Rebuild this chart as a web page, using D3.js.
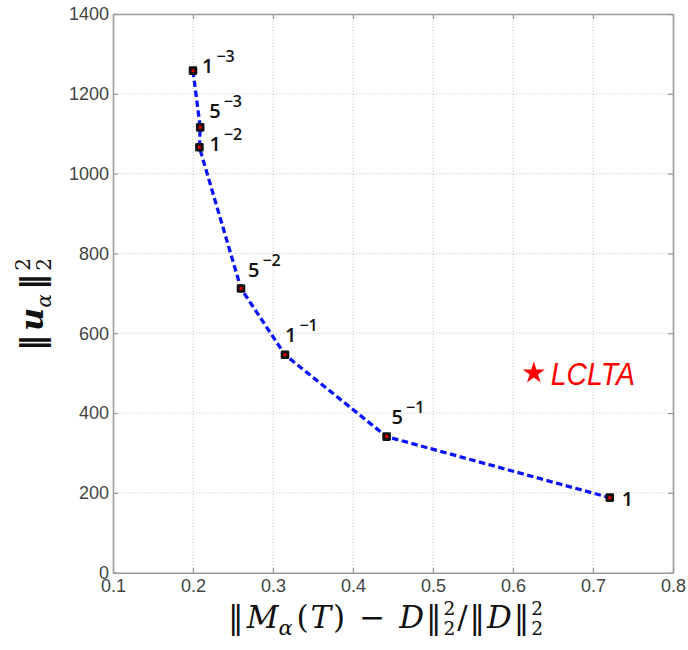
<!DOCTYPE html>
<html>
<head>
<meta charset="utf-8">
<script src="https://cdn.jsdelivr.net/npm/d3@7"></script>
<style>
  html, body { margin: 0; padding: 0; background: #fff; }
  svg { display: block; }
</style>
</head>
<body>
<svg id="chart" width="688" height="650"></svg>
<script>
// Trade-off curve: data misfit vs. solution norm for each regularisation weight
const misfit   = [0.200, 0.209, 0.208, 0.260, 0.315, 0.442, 0.721];
const normU    = [1258, 1116, 1066, 712, 546, 341, 188];
const alphaBase = ["1", "5", "1", "5", "1", "5", "1"];
const alphaExp  = ["−3", "−3", "−2", "−2", "−1", "−1", ""];

// Reference method
const refName = "LCLTA";
const refMisfit = 0.626;
const refNorm = 500;

const xTicks = [0.1, 0.2, 0.3, 0.4, 0.5, 0.6, 0.7, 0.8];
const yTicks = [0, 200, 400, 600, 800, 1000, 1200, 1400];

// label placement relative to each point (dx, dy of baseline)
const labelOffsets = [[9, 2], [9, -9], [10, 4], [7, -12], [0, -13], [5, -13], [12, 8]];

const svg = d3.select("#chart");
const plotL = 113, plotR = 673, plotT = 14, plotB = 572.7;

const x = d3.scaleLinear().domain([0.1, 0.8]).range([plotL, plotR]);
const y = d3.scaleLinear().domain([0, 1400]).range([plotB, plotT]);

const axisColor = "#9a9a9a";
const tickFont = "Liberation Sans, Arial, sans-serif";

// dotted grid
const grid = svg.append("g");
grid.selectAll("line.gx").data(xTicks.slice(1, -1)).join("line")
  .attr("x1", d => x(d)).attr("x2", d => x(d))
  .attr("y1", plotT).attr("y2", plotB)
  .attr("stroke", "#c8c8c8").attr("stroke-width", 1).attr("stroke-dasharray", "1.2,2");
grid.selectAll("line.gy").data(yTicks.slice(1, -1)).join("line")
  .attr("x1", plotL).attr("x2", plotR)
  .attr("y1", d => y(d)).attr("y2", d => y(d))
  .attr("stroke", "#c8c8c8").attr("stroke-width", 1).attr("stroke-dasharray", "1.2,2");

// axes with inward ticks
function styleAxis(g) {
  g.select(".domain").attr("stroke", axisColor).attr("stroke-width", 1.6);
  g.selectAll(".tick line").attr("stroke", axisColor).attr("stroke-width", 1.2);
  g.selectAll(".tick text").attr("fill", "#444")
    .style("font-family", tickFont).style("font-size", "18px");
}

const xAxis = svg.append("g").attr("transform", `translate(0,${plotB})`)
  .call(d3.axisBottom(x).tickValues(xTicks).tickFormat(d3.format(".1f"))
    .tickSizeInner(-5).tickSizeOuter(0).tickPadding(10));
styleAxis(xAxis);
xAxis.selectAll(".tick text").attr("dy", "0.71em").attr("y", 7);

const xAxisTop = svg.append("g").attr("transform", `translate(0,${plotT})`)
  .call(d3.axisTop(x).tickValues(xTicks).tickFormat("").tickSizeInner(-5).tickSizeOuter(0));
styleAxis(xAxisTop);

const yAxis = svg.append("g").attr("transform", `translate(${plotL},0)`)
  .call(d3.axisLeft(y).tickValues(yTicks).tickFormat(d3.format("d"))
    .tickSizeInner(-5).tickSizeOuter(0).tickPadding(9));
styleAxis(yAxis);
yAxis.selectAll(".tick text").attr("x", -4);

const yAxisRight = svg.append("g").attr("transform", `translate(${plotR},0)`)
  .call(d3.axisRight(y).tickValues(yTicks).tickFormat("").tickSizeInner(-5).tickSizeOuter(0));
styleAxis(yAxisRight);

// dashed curve
const pts = misfit.map((m, i) => [m, normU[i]]);
svg.append("path")
  .datum(pts)
  .attr("d", d3.line().x(d => x(d[0])).y(d => y(d[1])))
  .attr("fill", "none")
  .attr("stroke", "#0a14ff")
  .attr("stroke-width", 3.3)
  .attr("stroke-dasharray", "6.5,3.5");

// square markers
svg.append("g").selectAll("rect").data(pts).join("rect")
  .attr("x", d => x(d[0]) - 2.9).attr("y", d => y(d[1]) - 2.9)
  .attr("width", 5.8).attr("height", 5.8)
  .attr("fill", "#e00000").attr("stroke", "#111").attr("stroke-width", 2.8)
  .attr("stroke-linejoin", "round");

// point labels: base with superscript exponent
const lab = svg.append("g");
pts.forEach((d, i) => {
  const t = lab.append("text")
    .attr("x", x(d[0]) + labelOffsets[i][0])
    .attr("y", y(d[1]) + labelOffsets[i][1])
    .style("font-family", "Open Sans, DejaVu Sans, sans-serif")
    .style("font-weight", 600)
    .attr("fill", "#111");
  t.append("tspan").text(alphaBase[i]).style("font-size", "20px");
  if (alphaExp[i]) {
    t.append("tspan").text(alphaExp[i]).attr("dx", 3).attr("dy", -11).style("font-size", "16px");
  }
});

// reference method marker
svg.append("path")
  .attr("d", d3.symbol().type(d3.symbolStar).size(150)())
  .attr("transform", `translate(${x(refMisfit)},${y(refNorm)})`)
  .attr("fill", "#ff0000");
svg.append("text")
  .attr("x", x(refMisfit) + 17)
  .attr("y", y(refNorm) + 12)
  .attr("textLength", 84).attr("lengthAdjust", "spacingAndGlyphs")
  .style("font-family", "Liberation Sans, Arial, sans-serif")
  .style("font-style", "italic")
  .style("font-size", "32px")
  .attr("fill", "#ff0000")
  .text(refName);

// Math-style title: pieces laid out one after another, scripts stacked,
// spare room spread between pieces so the title fills the given width.
function mathText(parent, pieces, opts) {
  const t = parent.append("text")
    .attr("transform", opts.transform)
    .style("font-family", opts.font)
    .style("font-size", opts.size + "px")
    .attr("fill", "#111");
  let cur = 0;
  const spans = pieces.map(p => {
    const shift = p.sup ? -opts.size * 0.42 : p.sub ? opts.size * 0.24 : 0;
    const sp = t.append("tspan").text(p.t).attr("dy", shift - cur);
    cur = shift;
    if (p.i) sp.style("font-style", "italic");
    if (p.b) sp.style("font-weight", "bold");
    if (p.s) sp.style("font-size", (opts.size * p.s) + "px");
    return sp;
  });
  const widths = spans.map(sp => sp.node().getComputedTextLength());
  spans.forEach((sp, i) => { if (pieces[i].stack) sp.attr("dx", -widths[i - 1]); });
  const natural = t.node().getBBox().width;
  let weightSum = 0;
  pieces.forEach((p, i) => { if (i > 0 && !p.stack) weightSum += (p.w === undefined ? 1 : p.w); });
  const unit = Math.max(0, (opts.width - natural) / weightSum);
  pieces.forEach((p, i) => {
    if (i > 0 && !p.stack) spans[i].attr("dx", unit * (p.w === undefined ? 1 : p.w));
  });
  return t;
}

const serif = "DejaVu Serif, Liberation Serif, serif";
const script = 0.6;

// x-axis title: ||M_α(T) − D||²₂ / ||D||²₂
mathText(svg, [
  { t: "‖" },
  { t: "M", i: 1, w: 0.5 },
  { t: "α", i: 1, s: 0.68, sub: 1, w: 0 },
  { t: "(", w: 0.6 },
  { t: "T", i: 1, w: 0.3 },
  { t: ")", w: 0.3 },
  { t: "−", w: 2.2 },
  { t: "D", i: 1, w: 2.2 },
  { t: "‖", w: 0.3 },
  { t: "2", s: script, sup: 1, w: 0.3 },
  { t: "2", s: script, sub: 1, stack: 1 },
  { t: "/", w: 0.3 },
  { t: "‖", w: 0.3 },
  { t: "D", i: 1, w: 0.3 },
  { t: "‖", w: 0.3 },
  { t: "2", s: script, sup: 1, w: 0.3 },
  { t: "2", s: script, sub: 1, stack: 1 }
], { transform: "translate(228,628)", font: serif, size: 31, width: 315 });

// y-axis title: ||u_α||²₂
mathText(svg, [
  { t: "‖", b: 1 },
  { t: "u", i: 1, b: 1, w: 0.6 },
  { t: "α", i: 1, s: 0.62, sub: 1, w: 0 },
  { t: "‖", b: 1, w: 0.6 },
  { t: "2", s: 0.62, sup: 1, w: 0.5 },
  { t: "2", s: 0.62, sub: 1, stack: 1 }
], { transform: "translate(43,351) rotate(-90)", font: serif, size: 32, width: 93 });
</script>
</body>
</html>
